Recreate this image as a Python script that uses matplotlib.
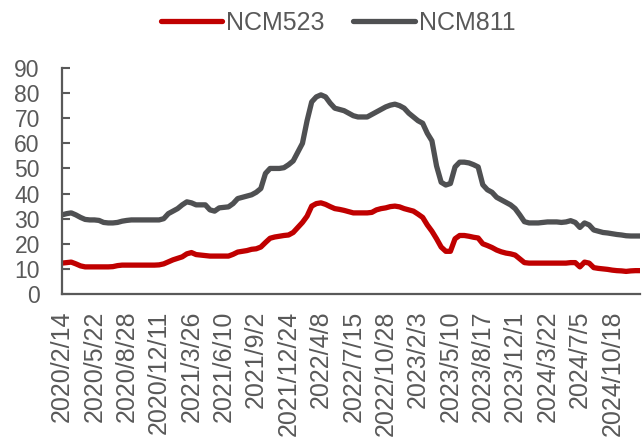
import matplotlib
matplotlib.use("Agg")
import matplotlib.pyplot as plt
import numpy as np

plt.rcParams['font.family'] = ['Liberation Sans', 'DejaVu Sans']

# 横轴标签（每 7 个点一个）
tick_labels = ["2020/2/14", "2020/5/22", "2020/8/28", "2020/12/11", "2021/3/26",
               "2021/6/10", "2021/9/2", "2021/12/24", "2022/4/8", "2022/7/15",
               "2022/10/28", "2023/2/3", "2023/5/10", "2023/8/17", "2023/12/1",
               "2024/3/22", "2024/7/5", "2024/10/18"]

ncm523 = [12.3, 12.5, 12.7, 12.0, 11.2, 10.8, 10.8,
          10.8, 10.8, 10.8, 10.8, 10.9, 11.3, 11.5,
          11.5, 11.5, 11.5, 11.5, 11.5, 11.5, 11.5,
          11.6, 12.0, 12.8, 13.6, 14.2, 14.8, 16.0,
          16.5, 15.7, 15.5, 15.3, 15.1, 15.1, 15.1,
          15.1, 15.1, 15.8, 16.7, 17.0, 17.3, 17.8,
          18.0, 18.7, 20.5, 22.2, 22.7, 23.0, 23.3,
          23.5, 24.5, 26.5, 28.5, 31.0, 35.0, 36.0,
          36.3, 35.7, 34.8, 34.0, 33.7, 33.3, 32.8,
          32.3, 32.3, 32.3, 32.3, 32.5, 33.5, 34.0,
          34.3, 34.8, 35.0, 34.7, 34.0, 33.5, 33.0,
          31.8, 30.5, 27.5, 25.0, 22.0, 18.7, 17.0,
          17.0, 22.0, 23.3, 23.3, 23.0, 22.6, 22.3,
          20.0, 19.3, 18.5, 17.5, 16.8, 16.3, 16.0,
          15.5, 14.0, 12.5, 12.3, 12.3, 12.3, 12.3,
          12.3, 12.3, 12.3, 12.3, 12.3, 12.5, 12.5,
          10.8, 12.7, 12.3, 10.5, 10.2, 10.0, 9.8,
          9.5, 9.3, 9.2, 9.0, 9.2, 9.3, 9.3]

ncm811 = [31.5, 32.0, 32.3, 31.5, 30.5, 29.7, 29.5,
          29.5, 29.3, 28.5, 28.3, 28.3, 28.5, 29.0,
          29.3, 29.5, 29.5, 29.5, 29.5, 29.5, 29.5,
          29.5, 30.0, 32.0, 33.0, 34.0, 35.5, 36.7,
          36.3, 35.5, 35.5, 35.5, 33.5, 33.0, 34.3,
          34.5, 34.7, 36.0, 38.0, 38.5, 39.0, 39.5,
          40.5, 42.0, 48.0, 50.0, 50.0, 50.0, 50.3,
          51.5, 53.0, 56.5, 60.0, 69.0, 76.5, 78.5,
          79.3, 78.5, 76.0, 74.0, 73.5, 73.0, 72.0,
          71.0, 70.5, 70.5, 70.5, 71.5, 72.5, 73.5,
          74.5, 75.2, 75.6, 75.0, 74.0, 72.0, 70.5,
          69.0, 68.0, 64.0, 61.0, 51.0, 44.5, 43.4,
          44.0, 50.6, 52.5, 52.5, 52.2, 51.5, 50.6,
          43.5, 41.5, 40.5, 38.5, 37.5, 36.5, 35.5,
          34.0, 31.5, 28.8, 28.3, 28.3, 28.3, 28.5,
          28.7, 28.7, 28.7, 28.5, 28.7, 29.2, 28.5,
          26.5, 28.3, 27.5, 25.5, 25.0, 24.5, 24.3,
          24.0, 23.7, 23.5, 23.2, 23.1, 23.1, 23.1]

x = np.arange(len(ncm523))
txt = '#595959'

fig = plt.figure(figsize=(6.43, 4.4), dpi=100)
ax = fig.add_axes([62 / 643, 1 - 294 / 440, 578 / 643, (294 - 68) / 440])

ax.plot(x, ncm523, color='#C00000', linewidth=3.8, solid_capstyle='round',
        solid_joinstyle='round', label='NCM523')
ax.plot(x, ncm811, color='#4F5052', linewidth=3.8, solid_capstyle='round',
        solid_joinstyle='round', label='NCM811')

ax.set_xlim(0, len(x) - 1)
ax.set_ylim(0, 90)
ax.set_yticks(range(0, 91, 10))
ax.set_xticks(x[::7])
ax.set_xticklabels(tick_labels, rotation=90)

for s in ['top', 'right']:
    ax.spines[s].set_visible(False)
for s in ['left', 'bottom']:
    ax.spines[s].set_color('#595959')
    ax.spines[s].set_linewidth(1.6)

ax.tick_params(axis='y', direction='in', length=6, width=1.5, color='#595959',
               labelsize=16.5, labelcolor=txt, pad=16)
ax.tick_params(axis='x', length=0, labelsize=18, labelcolor=txt, pad=12)

fig.legend(loc='center', bbox_to_anchor=(338 / 643, 1 - 23 / 440), ncol=2,
           frameon=False, fontsize=18, labelcolor=txt, handlelength=2.45,
           handletextpad=0.16, columnspacing=1.16)

fig.savefig('out.png', dpi=100)
